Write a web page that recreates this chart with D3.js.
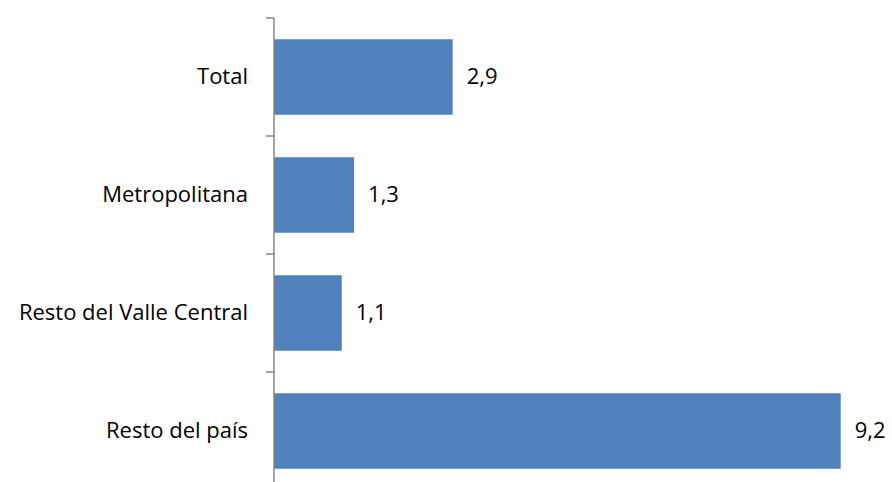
<!DOCTYPE html>
<html><head><meta charset="utf-8">
<script src="https://cdn.jsdelivr.net/npm/d3@7"></script>
<style>body{margin:0;background:#fff}svg{display:block}</style>
</head><body><svg id="c" width="892" height="482"></svg>
<script>
const categories = ["Total", "Metropolitana", "Resto del Valle Central", "Resto del país"];
const values = [2.9, 1.3, 1.1, 9.2];
const valueLabels = ["2,9", "1,3", "1,1", "9,2"];

const svg = d3.select("#c");
const x0 = 274, y0 = 18, bandH = 118;
const y = d3.scaleBand().domain(categories).range([y0, y0 + bandH * categories.length]).paddingInner(0.36).paddingOuter(0.18);
const x = d3.scaleLinear().domain([0, 9.2]).range([x0, 840.7]);
const font = "'Open Sans', sans-serif";

svg.selectAll("rect.bar").data(categories).enter().append("rect")
  .attr("x", x(0)).attr("y", d => y(d)).attr("width", (d,i) => x(values[i]) - x(0))
  .attr("height", y.bandwidth()).attr("fill", "#4F81BD");

const axisG = svg.append("g");
axisG.append("line").attr("x1", x0).attr("x2", x0).attr("y1", y0).attr("y2", y0 + bandH*4)
  .attr("stroke", "#868686").attr("stroke-width", 1.5);
d3.range(categories.length + 1).forEach(i => {
  axisG.append("line").attr("x1", x0 - 8).attr("x2", x0).attr("y1", y0 + bandH*i).attr("y2", y0 + bandH*i)
    .attr("stroke", "#868686").attr("stroke-width", 1.5);
});

svg.selectAll("text.cat").data(categories).enter().append("text")
  .attr("x", 248).attr("y", d => y(d) + y.bandwidth()/2).attr("dy", "0.3em")
  .attr("text-anchor", "end").attr("font-family", font).attr("font-size", 22).attr("fill", "#000")
  .text(d => d);

svg.selectAll("text.val").data(categories).enter().append("text")
  .attr("x", (d,i) => x(values[i]) + 14).attr("y", d => y(d) + y.bandwidth()/2).attr("dy", "0.3em")
  .attr("font-family", font).attr("font-size", 22).attr("fill", "#000")
  .text((d,i) => valueLabels[i]);
</script></body></html>
